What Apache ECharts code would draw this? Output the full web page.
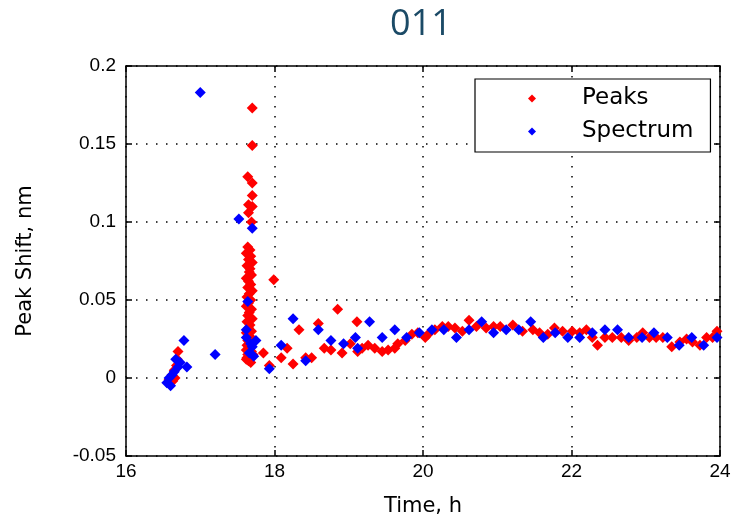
<!DOCTYPE html>
<html>
<head>
<meta charset="utf-8">
<script src="https://cdn.jsdelivr.net/npm/echarts@6/dist/echarts.min.js"></script>
<style>
  body{margin:0;background:#fff;}
  #chart{width:735px;height:522px;}
</style>
</head>
<body>
<div id="chart"></div>
<script>
// Peaks (red)
var peaksX = [16.58,16.62,16.65,16.68,16.69,16.70,16.63,16.66,
  17.70,17.70,17.64,17.70,17.70,17.65,17.70,17.65,17.69,
  17.64,17.67,17.62,17.68,17.65,17.70,17.63,17.67,17.66,17.69,17.62,17.65,17.68,17.64,17.70,17.66,17.63,17.68,17.65,17.62,17.69,17.66,17.64,17.70,17.63,17.67,17.65,17.69,17.62,17.66,17.68,17.64,17.70,17.63,17.67,17.65,17.62,17.69,17.66,17.64,17.70,17.63,17.67,17.65,17.68,17.62,17.71,
  17.85,17.93,17.99,18.09,18.17,18.25,18.33,18.42,18.50,18.59,18.67,18.76,18.85,18.91,19.02,19.11,19.12,19.18,19.26,19.35,19.45,19.53,19.62,19.66,19.76,19.85,19.93,20.03,20.07,20.16,20.26,20.34,20.43,20.53,20.62,20.72,20.85,20.95,21.04,21.21,21.34,21.48,21.57,21.68,21.77,21.88,22.01,22.11,22.20,22.28,22.35,22.45,22.55,22.67,22.77,22.88,22.96,23.05,23.14,23.23,23.35,23.46,23.55,23.63,23.73,23.82,23.90,23.96];
var peaksY = [-0.001,0.002,0.005,0.008,0.012,0.017,-0.002,0.000,
  0.173,0.149,0.129,0.125,0.117,0.111,0.110,0.106,0.100,
  0.084,0.082,0.080,0.078,0.076,0.074,0.072,0.070,0.068,0.066,0.064,0.062,0.060,0.058,0.056,0.054,0.052,0.050,0.048,0.046,0.044,0.042,0.040,0.038,0.036,0.034,0.032,0.030,0.029,0.027,0.026,0.024,0.023,0.021,0.020,0.019,0.018,0.017,0.016,0.015,0.014,0.013,0.012,0.011,0.010,0.012,0.015,
  0.016,0.008,0.063,0.013,0.019,0.009,0.031,0.013,0.013,0.035,0.019,0.018,0.044,0.016,0.022,0.036,0.017,0.019,0.021,0.019,0.017,0.018,0.019,0.022,0.024,0.028,0.029,0.026,0.028,0.031,0.033,0.033,0.032,0.030,0.037,0.033,0.032,0.033,0.033,0.034,0.030,0.031,0.029,0.028,0.032,0.030,0.030,0.029,0.031,0.026,0.021,0.026,0.026,0.026,0.024,0.026,0.029,0.026,0.026,0.026,0.020,0.023,0.025,0.023,0.021,0.026,0.026,0.030];

// Spectrum (blue)
var spectrumX = [16.55,16.58,16.62,16.65,16.70,16.73,16.67,16.78,16.82,16.60,
  17.00,17.20,
  17.52,17.70,17.64,17.62,17.62,17.70,17.66,17.72,17.75,17.68,
  17.93,18.09,18.25,18.42,18.59,18.76,18.93,19.09,19.12,19.28,19.45,19.62,19.78,19.95,20.12,20.28,20.45,20.62,20.79,20.95,21.12,21.29,21.45,21.62,21.78,21.95,22.11,22.28,22.45,22.62,22.77,22.95,23.11,23.29,23.45,23.62,23.78,23.96];
var spectrumY = [-0.003,0.000,0.002,0.004,0.007,0.010,0.012,0.024,0.007,-0.005,
  0.183,0.015,
  0.102,0.096,0.049,0.031,0.026,0.020,0.016,0.014,0.024,0.022,
  0.006,0.021,0.038,0.011,0.031,0.024,0.022,0.026,0.019,0.036,0.026,0.031,0.026,0.029,0.031,0.031,0.026,0.031,0.036,0.029,0.031,0.031,0.036,0.026,0.029,0.026,0.026,0.029,0.031,0.031,0.026,0.026,0.029,0.026,0.021,0.026,0.021,0.026];

var xTicks = [16, 18, 20, 22, 24];
var yTicks = [-0.05, 0, 0.05, 0.1, 0.15, 0.2];

function pairs(xs, ys){
  var out = [];
  for (var i = 0; i < xs.length; i++) out.push([xs[i], ys[i]]);
  return out;
}

var chart = echarts.init(document.getElementById('chart'));
var tickFont = {color:'#000', fontFamily:'Liberation Sans', fontSize:19};
var nameFont = {color:'#000', fontFamily:'DejaVu Sans', fontSize:21};
var line = {show:true, onZero:false, lineStyle:{color:'#000', width:1.5}};
var ticks = {show:true, inside:true, length:6, lineStyle:{color:'#000', width:1.5}};
var grid = {show:true, lineStyle:{color:'#000', width:1.5, type:[1.5,8.5]}};

var option = {
  animation:false,
  backgroundColor:'#fff',
  title:{
    text:'011', left:416, top:2, textAlign:'center',
    textStyle:{color:'#1b4a66', fontFamily:'Open Sans', fontSize:36, fontWeight:'normal'}
  },
  grid:{left:126, right:15, top:66, bottom:66},
  legend:{
    orient:'vertical', left:475, top:79,
    padding:[8,17,9,53],
    itemGap:10,
    itemWidth:8, itemHeight:8,
    backgroundColor:'#fff',
    borderColor:'#000', borderWidth:1.2,
    textStyle:{color:'#000', fontFamily:'DejaVu Sans', fontSize:23, lineHeight:23, padding:[0,0,0,41]},
    data:[{name:'Peaks', icon:'diamond'},{name:'Spectrum', icon:'diamond'}]
  },
  xAxis:[{
    type:'value', min:xTicks[0], max:xTicks[xTicks.length-1], interval:2,
    name:'Time, h', nameLocation:'middle', nameGap:40,
    nameTextStyle:nameFont,
    axisLine:line, axisTick:ticks,
    axisLabel:Object.assign({margin:6}, tickFont),
    splitLine:grid
  },{
    type:'value', position:'top', min:16, max:24, interval:2,
    axisLine:line, axisTick:ticks, axisLabel:{show:false},
    splitLine:{show:false}
  }],
  yAxis:[{
    type:'value', min:yTicks[0], max:yTicks[yTicks.length-1], interval:0.05,
    name:'Peak Shift, nm', nameLocation:'middle', nameGap:90,
    nameTextStyle:nameFont,
    axisLine:line, axisTick:ticks,
    axisLabel:Object.assign({margin:10, formatter:function(v){ return String(+v.toFixed(2)); }}, tickFont),
    splitLine:grid
  },{
    type:'value', position:'right', min:-0.05, max:0.2, interval:0.05,
    axisLine:line, axisTick:ticks, axisLabel:{show:false},
    splitLine:{show:false}
  }],
  series:[{
    name:'Peaks', type:'scatter', symbol:'diamond', symbolSize:[11,11],
    itemStyle:{color:'#ff0000', opacity:1},
    data:pairs(peaksX, peaksY)
  },{
    name:'Spectrum', type:'scatter', symbol:'diamond', symbolSize:[11,11],
    itemStyle:{color:'#0000ff', opacity:1},
    data:pairs(spectrumX, spectrumY)
  }]
};

chart.setOption(option);
</script>
</body>
</html>
